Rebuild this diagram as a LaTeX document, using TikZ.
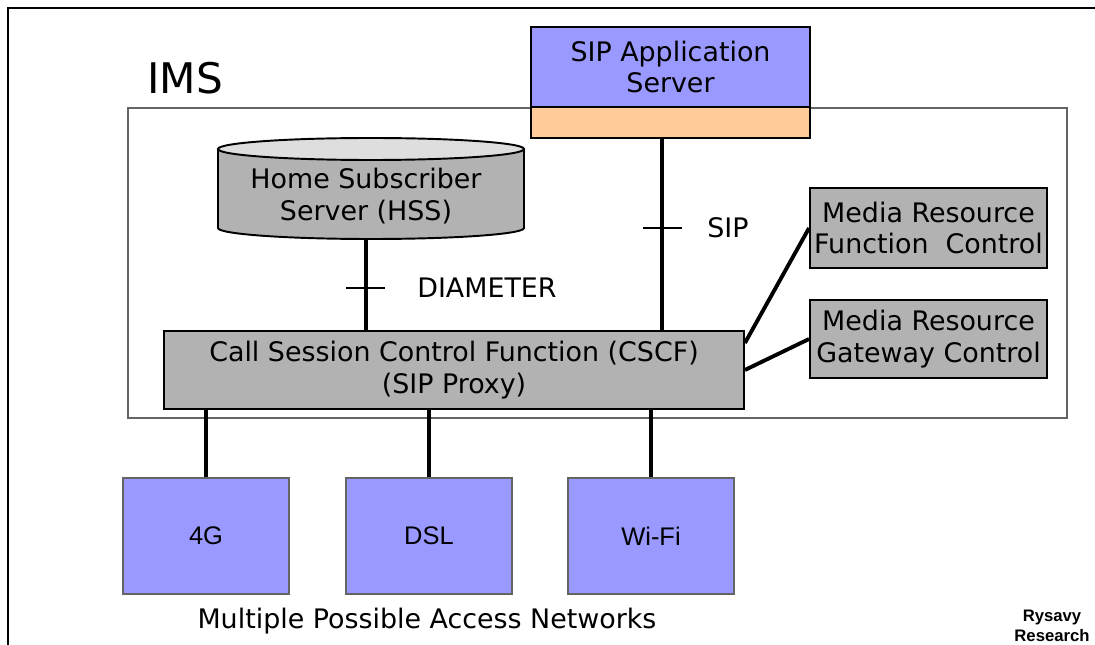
\documentclass[tikz,border=0pt]{standalone}
\usepackage{fontspec}
\setmainfont{DejaVu Sans}
\newfontfamily\arialfont{Liberation Sans}
\usetikzlibrary{positioning}
\definecolor{BoxBlue}{RGB}{153,153,255}
\definecolor{BoxOrange}{RGB}{255,204,153}
\definecolor{BoxGray}{RGB}{178,178,178}
\definecolor{TopGray}{RGB}{222,222,222}
\definecolor{FrameGray}{RGB}{100,100,100}

\begin{document}
\begin{tikzpicture}[x=0.02cm, y=-0.02cm,
	txt/.style={font=\fontsize{15.3}{18}\selectfont, align=center, inner sep=0pt},
	box/.style={txt, draw=black, line width=1.1pt, fill=BoxGray},
	netbox/.style={draw=FrameGray, line width=0.8pt, fill=BoxBlue, minimum width=3.32cm, minimum height=2.32cm, font=\arialfont\fontsize{14.5}{16}\selectfont},
	link/.style={line width=2.2pt}]
	\useasboundingbox (0,0) rectangle (1095,645);
	
	% outer frame (only top and left edges are visible)
	\draw[line width=1.1pt] (8,645) -- (8,8) -- (1095,8);
	
	% IMS domain
	\draw[FrameGray, line width=1pt] (128,108) rectangle (1067,418);
	\node[font=\fontsize{24}{28}\selectfont, inner sep=0pt] (ims) at (185,78) {IMS};
	
	% application server
	\node[box, fill=BoxBlue, minimum width=5.58cm, minimum height=1.6cm] (sipas) at (670.5,67) {SIP Application\\Server};
	\node[box, fill=BoxOrange, minimum width=5.58cm, minimum height=0.62cm] (sipasbot) at (670.5,122.5) {};
	
	% HSS database
	\fill[BoxGray] (218,149) -- (218,228) arc[start angle=180, end angle=0, x radius=153, y radius=11] -- (524,149) -- cycle;
	\draw[line width=1.1pt] (218,149) -- (218,228) arc[start angle=180, end angle=0, x radius=153, y radius=11] -- (524,149);
	\draw[line width=1.1pt, fill=TopGray] (371,149) ellipse[x radius=153, y radius=11];
	\node[txt] (hss) at (366,196) {Home Subscriber\\Server (HSS)};
	\coordinate (hssbot) at (366,239);
	
	% CSCF and media resource functions
	\node[box, minimum width=11.6cm, minimum height=1.56cm] (cscf) at (454,370) {Call Session Control Function (CSCF)\\(SIP Proxy)};
	\node[box, minimum width=4.74cm, minimum height=1.6cm] (mrfc) at (928.5,228) {Media Resource\\Function~~Control};
	\node[box, minimum width=4.74cm, minimum height=1.56cm] (mrgc) at (928.5,339) {Media Resource\\Gateway Control};
	
	% access networks
	\node[netbox] (lte) at (206,536) {4G};
	\node[netbox] (dsl) at (429,536) {DSL};
	\node[netbox] (wifi) at (651,536) {Wi-Fi};
	\node[txt] (access) at (427,621) {Multiple Possible Access Networks};
	
	% links
	\coordinate (sipbot) at (662,138);
	\draw[link] (sipbot) -- (sipbot |- cscf.north);
	\draw[link] (hssbot) -- (hssbot |- cscf.north);
	\draw[link] (cscf.east) -- (mrgc.west);
	\draw[link] ([yshift=0.54cm]cscf.east) -- (mrfc.west);
	\draw[link] (lte.north) -- (lte.north |- cscf.south);
	\draw[link] (dsl.north) -- (dsl.north |- cscf.south);
	\draw[link] (wifi.north) -- (wifi.north |- cscf.south);
	
	% protocol ticks and labels
	\draw[line width=1.2pt] (643,228) -- (682,228);
	\draw[line width=1.2pt] (346,288) -- (385,288);
	\node[txt] (sip) at (728,228) {SIP};
	\node[txt] (diameter) at (487,288) {DIAMETER};
	
	\node[font=\arialfont\bfseries\fontsize{9.5}{11.3}\selectfont, align=center, inner sep=0pt] (rysavy) at (1052,626) {Rysavy\\Research};
\end{tikzpicture}
\end{document}
